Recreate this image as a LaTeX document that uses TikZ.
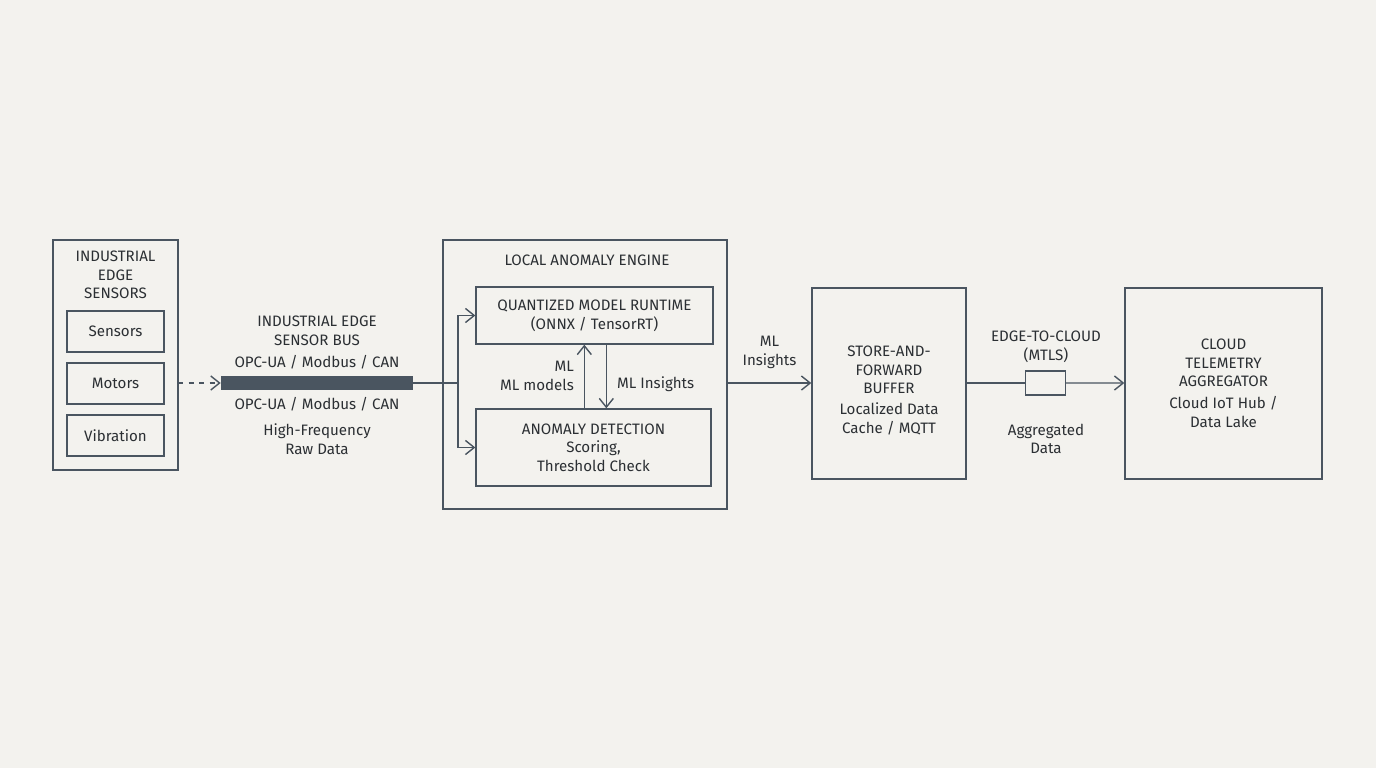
\documentclass[tikz,border=0pt]{standalone}
\usepackage{fontspec}
\setmainfont{Fira Sans}
\usepackage{tikz}
\usetikzlibrary{positioning, shapes.geometric, arrows.meta}
\definecolor{line_gray}{HTML}{4a5560}
\definecolor{paper}{HTML}{f3f2ee}
\definecolor{ink}{HTML}{2b2f33}

\tikzset{
  box/.style={draw=line_gray, thick, fill=paper, inner sep=0pt},
  lbl/.style={text=ink, align=center, font=\fontsize{8.6}{10.6}\selectfont, inner sep=1pt},
  flow/.style={draw=line_gray, thick, -{Straight Barb[length=5pt, width=8pt]}}
}

\begin{document}
\begin{tikzpicture}[x=0.02cm, y=-0.02cm]
    \fill[paper] (0,0) rectangle (1376,768);
    \useasboundingbox (0,0) rectangle (1376,768);

    % Sensors column
    \node[box, minimum width=2.5cm, minimum height=4.6cm] (sens) at (115.5,355) {};
    \node[lbl] (senstitle) at (115.5,275) {INDUSTRIAL\\EDGE\\SENSORS};
    \node[box, minimum width=1.94cm, minimum height=0.82cm, lbl] (sensors) at (115.5,331.5) {Sensors};
    \node[box, minimum width=1.94cm, minimum height=0.82cm, lbl] (motors) at (115.5,383.5) {Motors};
    \node[box, minimum width=1.94cm, minimum height=0.82cm, lbl] (vibration) at (115.5,435.5) {Vibration};

    % Bus
    \node[fill=line_gray, minimum width=3.84cm, minimum height=0.28cm, inner sep=0pt] (bus) at (317,383) {};
    \node[lbl] (bustitle) at (317,331) {INDUSTRIAL EDGE\\SENSOR BUS};
    \node[lbl] (busproto) at (317,362) {OPC-UA / Modbus / CAN};
    \node[lbl] (busproto2) at (317,404) {OPC-UA / Modbus / CAN};
    \node[lbl] (busdata) at (317,439) {High-Frequency\\Raw Data};
    \draw[flow, dashed] (178,383) -- (bus.west);

    % Local anomaly engine
    \node[box, minimum width=5.68cm, minimum height=5.38cm] (engine) at (585,374.5) {};
    \node[lbl] (enginetitle) at (587,260) {LOCAL ANOMALY ENGINE};
    \node[box, minimum width=4.74cm, minimum height=1.14cm, lbl] (runtime) at (594.5,315.5) {QUANTIZED MODEL RUNTIME\\(ONNX / TensorRT)};
    \node[box, minimum width=4.7cm, minimum height=1.54cm, lbl] (detect) at (593.5,447.5) {ANOMALY DETECTION\\Scoring,\\Threshold Check};
    \coordinate (split) at (458,383);
    \draw[draw=line_gray, thick] (bus.east) -- (split);
    \draw[flow] (split) |- (runtime.west);
    \draw[flow] (split) |- (detect.west);
    \draw[flow] (detect.south west |- detect.north) ++(109,0) coordinate (up) -- (up |- runtime.south);
    \draw[flow] (runtime.south west) ++(131,0) coordinate (dn) -- (dn |- detect.north);
    \node[lbl, anchor=east, align=right] (models) at (576,376) {ML\\ML models};
    \node[lbl, anchor=west] (insights) at (615,384) {ML Insights};

    % Buffer and cloud
    \node[box, minimum width=3.08cm, minimum height=3.82cm] (buffer) at (889,383.5) {};
    \node[lbl] (buftext) at (889,370) {STORE-AND-\\FORWARD\\BUFFER};
    \node[lbl] (bufsub) at (889,419) {Localized Data\\Cache / MQTT};
    \draw[flow] (engine.east |- split) -- (buffer.west |- split) node[lbl, midway, above=7pt] {ML\\Insights};

    \node[box, minimum width=3.94cm, minimum height=3.82cm] (cloud) at (1223.5,383.5) {};
    \node[lbl] (cloudtext) at (1223.5,363) {CLOUD\\TELEMETRY\\AGGREGATOR};
    \node[lbl] (cloudsub) at (1223.5,412) {Cloud IoT Hub /\\Data Lake};

    \node[cylinder, draw=line_gray, thick, fill=paper, minimum width=0.48cm, minimum height=0.8cm, shape aspect=0.6, inner sep=0pt] (tunnel) at (1045,383) {};
    \draw[draw=line_gray, thick] (buffer.east |- split) -- (tunnel.west);
    \draw[flow] (tunnel.east) -- (cloud.west |- split);
    \node[lbl] (tunneltext) at (1046,347) {EDGE-TO-CLOUD\\(MTLS)};
    \node[lbl] (tunneldata) at (1046,439) {Aggregated\\Data};
\end{tikzpicture}
\end{document}
